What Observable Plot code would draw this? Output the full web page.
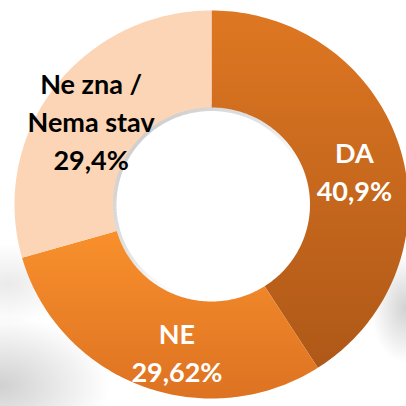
<!DOCTYPE html>
<html>
<head>
<meta charset="utf-8">
<script src="https://cdn.jsdelivr.net/npm/d3@7"></script>
<script src="https://cdn.jsdelivr.net/npm/@observablehq/plot@0.6"></script>
<style>
  html, body { margin: 0; padding: 0; background: #ffffff; }
  #chart {
    width: 406px; height: 406px; overflow: hidden;
    background:
      radial-gradient(ellipse 110px 70px at 0% 95%, rgba(200,200,200,0.85), rgba(255,255,255,0) 100%),
      radial-gradient(ellipse 60px 40px at 2% 70%, rgba(225,225,225,0.7), rgba(255,255,255,0) 100%),
      radial-gradient(ellipse 35px 55px at 100% 76%, rgba(205,205,205,0.9), rgba(255,255,255,0) 100%),
      #ffffff;
  }
</style>
</head>
<body>
<div id="chart"></div>
<script>
// ---- data ----
const categories = ["DA", "NE", "Ne zna / Nema stav"];
const values = [40.9, 29.62, 29.4];
const labels = ["DA\n40,9%", "NE\n29,62%", "Ne zna /\nNema stav\n29,4%"];

// ---- styles ----
const gradTop = ["#DE7722", "#F9902C", "#FBD5B5"];
const gradBottom = ["#AE5818", "#DD7222", "#FBD5B5"];
const labelColors = ["#ffffff", "#ffffff", "#000000"];
const labelOffsets = [[3, 6], [17, 12], [-4, 2]];

const outerR = 1, innerR = 0.5;
const total = d3.sum(values);

// build slice polygons in data space (unit circle; angle from 12 o'clock clockwise)
const slices = [];
let cum = 0;
values.forEach((v, i) => {
  const a0 = cum / total * 2 * Math.PI;
  cum += v;
  const a1 = cum / total * 2 * Math.PI;
  const pts = [];
  const N = 120;
  for (let k = 0; k <= N; k++) {
    const a = a0 + (a1 - a0) * k / N;
    pts.push({x: outerR * Math.sin(a), y: outerR * Math.cos(a), cat: categories[i]});
  }
  for (let k = N; k >= 0; k--) {
    const a = a0 + (a1 - a0) * k / N;
    pts.push({x: innerR * Math.sin(a), y: innerR * Math.cos(a), cat: categories[i]});
  }
  const mid = (a0 + a1) / 2;
  slices.push({pts, mid, i});
});

// hole edge (for the soft inner shadow)
const hole = d3.range(0, 361, 2).map(d => ({x: innerR * Math.sin(d * Math.PI / 180), y: innerR * Math.cos(d * Math.PI / 180)}));

const rx = 197, ry = 194, cx = 211, cy = 204;

const marks = [
  Plot.line(hole, {x: "x", y: "y", stroke: "url(#holeShadow)", strokeWidth: 7, curve: "linear"})
];
slices.forEach(s => {
  marks.push(Plot.line(s.pts, {x: "x", y: "y", fill: `url(#grad${s.i})`, stroke: "none", curve: "linear"}));
});
slices.forEach(s => {
  const r = 0.74;
  marks.push(Plot.text([{x: r * Math.sin(s.mid), y: r * Math.cos(s.mid), t: labels[s.i]}], {
    x: "x", y: "y", text: "t",
    fill: labelColors[s.i],
    fontSize: 27, fontWeight: "bold", fontFamily: "Lato, 'Open Sans', sans-serif",
    lineHeight: 1.4,
    dx: labelOffsets[s.i][0], dy: labelOffsets[s.i][1]
  }));
});

const chart = Plot.plot({
  width: 406, height: 406, margin: 0,
  style: {background: "transparent", overflow: "visible"},
  x: {axis: null, domain: [-cx / rx, (406 - cx) / rx], range: [0, 406]},
  y: {axis: null, domain: [-(406 - cy) / ry, cy / ry], range: [406, 0]},
  marks
});

const svg = d3.select(chart);
const defs = svg.insert("defs", ":first-child");
values.forEach((v, i) => {
  const g = defs.append("linearGradient").attr("id", `grad${i}`)
    .attr("x1", 0).attr("y1", 0).attr("x2", 0).attr("y2", 1);
  g.append("stop").attr("offset", "0%").attr("stop-color", gradTop[i]);
  g.append("stop").attr("offset", "100%").attr("stop-color", gradBottom[i]);
});
const hs = defs.append("linearGradient").attr("id", "holeShadow")
  .attr("x1", 0).attr("y1", 0).attr("x2", 1).attr("y2", 1);
hs.append("stop").attr("offset", "0%").attr("stop-color", "#c4c4c4");
hs.append("stop").attr("offset", "45%").attr("stop-color", "#e6e6e6");
hs.append("stop").attr("offset", "70%").attr("stop-color", "#ffffff").attr("stop-opacity", 0);

document.getElementById("chart").appendChild(chart);
</script>
</body>
</html>
